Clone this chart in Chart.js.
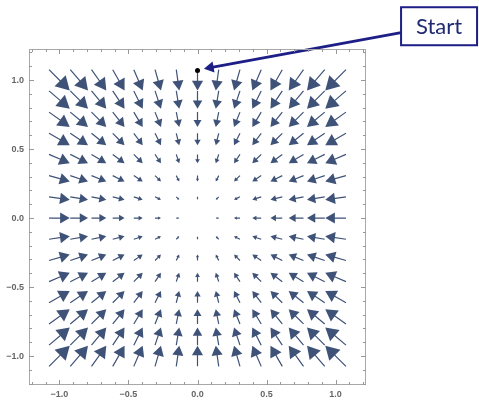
<!DOCTYPE html>
<html>
<head>
<meta charset="utf-8">
<script src="https://cdn.jsdelivr.net/npm/chart.js@4.4.1/dist/chart.umd.min.js"></script>
<style>
  html, body { margin: 0; padding: 0; background: #fff; }
  #wrap { width: 479px; height: 401px; position: relative; }
</style>
</head>
<body>
<div id="wrap"><canvas id="field"></canvas></div>
<script>
// grid of sample points (15 x 15, step 1/7)
const gridX = [-1, -0.857, -0.714, -0.571, -0.429, -0.286, -0.143, 0, 0.143, 0.286, 0.429, 0.571, 0.714, 0.857, 1];
const gridY = [-1, -0.857, -0.714, -0.571, -0.429, -0.286, -0.143, 0, 0.143, 0.286, 0.429, 0.571, 0.714, 0.857, 1];
// flow components, read per column / per row (field points to the origin)
const uByColumn = [1, 0.857, 0.714, 0.571, 0.429, 0.286, 0.143, 0, -0.143, -0.286, -0.429, -0.571, -0.714, -0.857, -1];
const vByRow = [1, 0.857, 0.714, 0.571, 0.429, 0.286, 0.143, 0, -0.143, -0.286, -0.429, -0.571, -0.714, -0.857, -1];

const tickValues = [-1, -0.5, 0, 0.5, 1];
const tickLabels = ['\u22121.0', '\u22120.5', '0.0', '0.5', '1.0'];

// annotation
const startPoint = { x: 0, y: 1.07 };
const calloutFrom = { x: 1.474, y: 1.343 };
const calloutTo = { x: 0.093, y: 1.09 };
const calloutBox = { x: 1.749, y: 1.39, text: 'Start' };

const arrowScale = 0.15;   // data units per unit of field strength
const headFrac = 0.31;     // head radius as part of arrow length
const arrowColor = '#3f5278';
const navy = '#1d1f86';

// --- build marks from the arrays ---
const gap = { x: NaN, y: NaN };
const shafts = [];
const heads = [];
const headLen = [];
const headRot = [];
gridY.forEach((y, j) => {
  gridX.forEach((x, i) => {
    const u = uByColumn[i], v = vByRow[j];
    const mag = Math.hypot(u, v);
    if (mag === 0) return;
    const dx = u * arrowScale, dy = v * arrowScale;
    const tip = { x: x + dx / 2, y: y + dy / 2 };
    const hc = { x: tip.x - dx * headFrac, y: tip.y - dy * headFrac };
    shafts.push({ x: x - dx / 2, y: y - dy / 2 }, hc, gap);
    heads.push(hc);
    headLen.push(mag * arrowScale);
    headRot.push(Math.atan2(u, v) * 180 / Math.PI);
  });
});

const pxPerUnit = chart => {
  const s = chart.scales.x;
  return Math.abs(s.getPixelForValue(1) - s.getPixelForValue(0));
};

const calloutRot = Math.atan2(calloutTo.x - calloutFrom.x, calloutTo.y - calloutFrom.y) * 180 / Math.PI;

const framePlugin = {
  id: 'frame',
  afterDraw(chart) {
    const { ctx, chartArea: a, scales } = chart;
    ctx.save();
    ctx.strokeStyle = '#a8a8a8';
    ctx.lineWidth = 1;
    ctx.strokeRect(a.left + 0.5, a.top + 0.5, a.right - a.left - 1, a.bottom - a.top - 1);
    ctx.strokeStyle = '#999';
    for (let k = -12; k <= 12; k++) {
      const v = k / 10;
      const len = k % 5 === 0 ? 5 : 3;
      const px = Math.round(scales.x.getPixelForValue(v)) + 0.5;
      const py = Math.round(scales.y.getPixelForValue(v)) + 0.5;
      ctx.beginPath();
      ctx.moveTo(px, a.bottom); ctx.lineTo(px, a.bottom - len);
      ctx.moveTo(px, a.top); ctx.lineTo(px, a.top + len);
      ctx.moveTo(a.left, py); ctx.lineTo(a.left + len, py);
      ctx.moveTo(a.right, py); ctx.lineTo(a.right - len, py);
      ctx.stroke();
    }
    // callout box
    const bx = scales.x.getPixelForValue(calloutBox.x);
    const by = scales.y.getPixelForValue(calloutBox.y);
    const w = 76, h = 38;
    ctx.fillStyle = '#fff';
    ctx.fillRect(bx - w / 2, by - h / 2, w, h);
    ctx.strokeStyle = navy;
    ctx.lineWidth = 2;
    ctx.strokeRect(bx - w / 2, by - h / 2, w, h);
    ctx.fillStyle = '#1f2a70';
    ctx.font = '22px Lato, "Open Sans", sans-serif';
    ctx.textAlign = 'center';
    ctx.textBaseline = 'middle';
    ctx.fillText(calloutBox.text, bx, by + 1);
    ctx.restore();
  }
};

new Chart(document.getElementById('field'), {
  type: 'scatter',
  data: {
    datasets: [
      {
        label: 'start', data: [startPoint], clip: false, order: -1,
        pointRadius: 2.5, pointBackgroundColor: '#000', pointBorderWidth: 0
      },
      {
        label: 'shafts', data: shafts, showLine: true, spanGaps: false,
        borderColor: arrowColor, borderWidth: 1.2, pointRadius: 0
      },
      {
        label: 'heads', data: heads, showLine: false,
        pointStyle: 'triangle', pointRotation: headRot,
        pointRadius: ctx => headFrac * headLen[ctx.dataIndex] * pxPerUnit(ctx.chart),
        pointBackgroundColor: arrowColor, pointBorderWidth: 0
      },
      {
        label: 'callout', data: [calloutFrom, calloutTo],
        showLine: true, clip: false, borderColor: navy, borderWidth: 2.8,
        pointRadius: [0, 6.5], pointStyle: 'triangle', pointRotation: [0, calloutRot],
        pointBackgroundColor: navy, pointBorderWidth: 0
      }
    ]
  },
  options: {
    responsive: true, maintainAspectRatio: false, animation: false, events: [],
    layout: { padding: { top: 49, right: 113, left: 0, bottom: 0 } },
    plugins: { legend: { display: false }, tooltip: { enabled: false } },
    scales: {
      x: {
        type: 'linear', min: -1.22, max: 1.22,
        grid: { display: false, drawTicks: false }, border: { display: false },
        afterBuildTicks: s => { s.ticks = tickValues.map(v => ({ value: v })); },
        afterFit: s => { s.height = 16; },
        ticks: {
          padding: 4, color: '#666', maxRotation: 0,
          font: { family: '"Liberation Sans", Arial, sans-serif', size: 9, weight: 'bold' },
          callback: v => tickLabels[tickValues.indexOf(v)]
        }
      },
      y: {
        type: 'linear', min: -1.21, max: 1.225,
        grid: { display: false, drawTicks: false }, border: { display: false },
        afterBuildTicks: s => { s.ticks = tickValues.map(v => ({ value: v })); },
        afterFit: s => { s.width = 29; },
        ticks: {
          padding: 5, color: '#666',
          font: { family: '"Liberation Sans", Arial, sans-serif', size: 9, weight: 'bold' },
          callback: v => tickLabels[tickValues.indexOf(v)]
        }
      }
    }
  },
  plugins: [framePlugin]
});
</script>
</body>
</html>
